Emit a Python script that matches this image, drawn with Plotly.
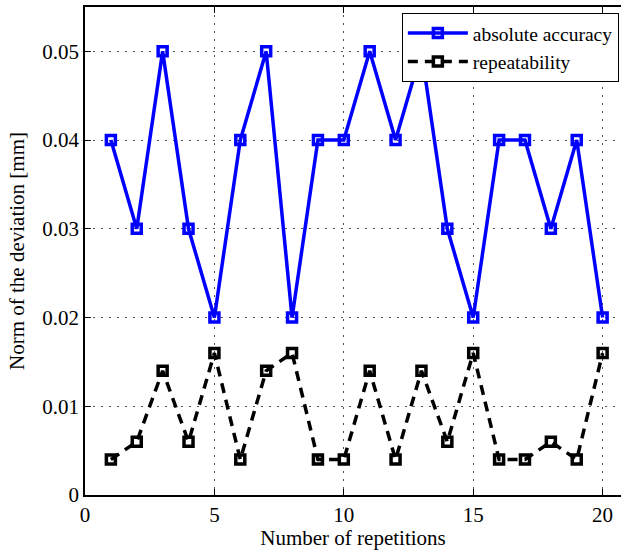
import plotly.graph_objects as go

reps = list(range(1, 21))
absolute_accuracy = [0.04, 0.03, 0.05, 0.03, 0.02, 0.04, 0.05, 0.02, 0.04, 0.04,
                     0.05, 0.04, 0.05, 0.03, 0.02, 0.04, 0.04, 0.03, 0.04, 0.02]
repeatability = [0.004, 0.006, 0.014, 0.006, 0.016, 0.004, 0.014, 0.016, 0.004, 0.004,
                 0.014, 0.004, 0.014, 0.006, 0.016, 0.004, 0.004, 0.006, 0.004, 0.016]
x_ticks = [0, 5, 10, 15, 20]
y_ticks = [0, 0.01, 0.02, 0.03, 0.04, 0.05]
y_tick_labels = ["0", "0.01", "0.02", "0.03", "0.04", "0.05"]

font = "Liberation Serif"
fs = 21

fig = go.Figure()
fig.add_trace(go.Scatter(
    x=reps, y=absolute_accuracy, mode="lines+markers", name="absolute accuracy",
    line=dict(color="#0000ff", width=3.5),
    marker=dict(symbol="square-open", size=9, color="#0000ff", line=dict(width=3.5)),
))
fig.add_trace(go.Scatter(
    x=reps, y=repeatability, mode="lines+markers", name="repeatability",
    line=dict(color="#000000", width=3.5, dash="10px,7px"),
    marker=dict(symbol="square-open", size=9, color="#000000", line=dict(width=3.5)),
))

axis_common = dict(
    ticks="inside", ticklen=6, tickcolor="black", tickwidth=1,
    showline=True, linecolor="black", linewidth=1.5,
    showgrid=True, gridcolor="#555555", griddash="2px,6px", gridwidth=1,
    zeroline=False,
    tickfont=dict(family=font, size=fs, color="black"),
)

fig.update_layout(
    width=621, height=550,
    margin=dict(l=85, r=0, t=7, b=55),
    paper_bgcolor="white", plot_bgcolor="white",
    font=dict(family=font, size=fs, color="black"),
    showlegend=True,
    legend=dict(x=0.996, y=0.988, xanchor="right", yanchor="top",
                bgcolor="white", bordercolor="black", borderwidth=1,
                itemwidth=60,
                font=dict(family=font, size=19.5, color="black"), tracegroupgap=0),
    xaxis=dict(range=[0, 20.71], tickvals=x_ticks, mirror="ticks",
               title=dict(text="Number of repetitions", standoff=0,
                          font=dict(family=font, size=fs, color="black")),
               **axis_common),
    yaxis=dict(range=[0, 0.055], tickvals=y_ticks, ticktext=y_tick_labels,
               mirror=False,
               title=dict(text="Norm of the deviation [mm]", standoff=12,
                          font=dict(family=font, size=fs, color="black")),
               **axis_common),
)

fig.write_html("out.html", config={"displayModeBar": False},
               post_script="document.body.style.margin='0';document.body.style.overflow='hidden';")
